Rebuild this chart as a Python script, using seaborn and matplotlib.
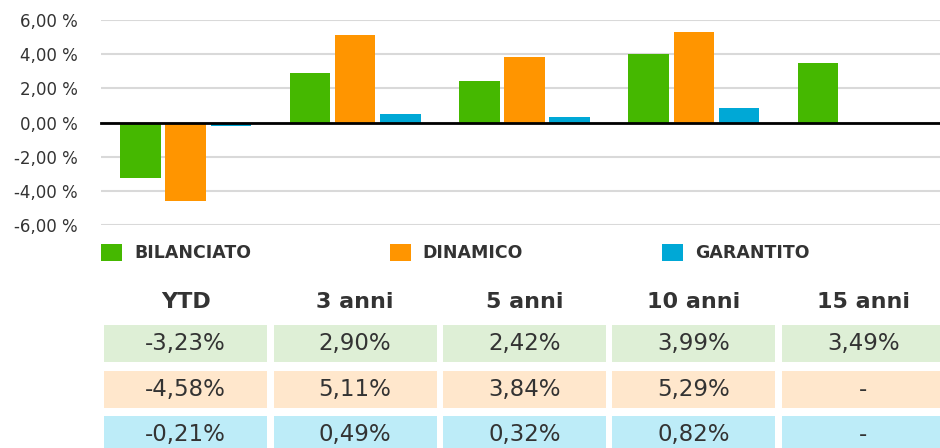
import numpy as np
import pandas as pd
import seaborn as sns
import matplotlib
matplotlib.use("Agg")
import matplotlib.pyplot as plt
from matplotlib.patches import Rectangle
from matplotlib.ticker import FuncFormatter, FixedLocator

periods = ["YTD", "3 anni", "5 anni", "10 anni", "15 anni"]
series = ["BILANCIATO", "DINAMICO", "GARANTITO"]
bilanciato = [-3.23, 2.90, 2.42, 3.99, 3.49]
dinamico = [-4.58, 5.11, 3.84, 5.29, None]
garantito = [-0.21, 0.49, 0.32, 0.82, None]
yticks = [-6, -4, -2, 0, 2, 4, 6]

bar_colors = ["#45B800", "#FF9500", "#00A8D6"]
cell_colors = ["#DEEFD6", "#FFE7CC", "#BDECF8"]
text_color = "#333333"

df = pd.DataFrame({
    "period": periods * 3,
    "fund": np.repeat(series, len(periods)),
    "value": [np.nan if v is None else v for v in bilanciato + dinamico + garantito],
})

sns.set_theme(style="white")
plt.rcParams["font.family"] = ["DejaVu Sans"]

W, H = 940, 448
fig = plt.figure(figsize=(W / 100, H / 100), dpi=100)
ax = fig.add_axes([101 / W, 1 - 225 / H, 847 / W, 205 / H])

sns.barplot(data=df, x="period", y="value", hue="fund", order=periods,
            hue_order=series, palette=bar_colors, saturation=1,
            width=0.8, gap=0.1, errorbar=None, linewidth=0, ax=ax)

ax.set_xlim(-0.5, len(periods) - 0.5)
ax.set_ylim(-6, 6)
ax.set_yticks(yticks)
ax.yaxis.set_major_formatter(FuncFormatter(lambda v, p: f"{v:.2f}".replace(".", ",") + " %"))
ax.yaxis.grid(True, color="#d9d9d9", lw=1.5)
ax.set_axisbelow(True)
ax.set_xlabel("")
ax.set_ylabel("")
for s in ["left", "top", "right"]:
    ax.spines[s].set_visible(False)
ax.spines["bottom"].set_position(("data", 0))
ax.spines["bottom"].set_color("black")
ax.spines["bottom"].set_linewidth(2)
ax.xaxis.set_major_locator(FixedLocator([i - 0.5 for i in range(len(periods) + 1)]))
ax.tick_params(axis="x", direction="in", length=4, width=1.5, color="black", labelbottom=False)
ax.tick_params(axis="y", length=0, pad=17, labelsize=12, labelcolor=text_color)

sns.move_legend(ax, "center left", bbox_to_anchor=(0, (225 - 253) / 205), ncol=3,
                frameon=False, title=None, handlelength=1.2, handleheight=1.2,
                handletextpad=0.7, columnspacing=8.0, borderaxespad=0, borderpad=0,
                prop=dict(weight="bold", size=12.5), labelcolor=text_color)

# table
ax2 = fig.add_axes([101 / W, 0, 847 / W, (H - 280) / H])
ax2.set_xlim(-0.5, len(periods) - 0.5)
ax2.set_ylim(H, 280)
ax2.axis("off")

row_tops = [325, 371, 416]
row_h = 37
cell_w = 0.962
for i, p in enumerate(periods):
    ax2.text(i, 302, p, ha="center", va="center", fontsize=16, fontweight="bold", color=text_color)
for r, vals in enumerate([bilanciato, dinamico, garantito]):
    for i, v in enumerate(vals):
        ax2.add_patch(Rectangle((i - cell_w / 2, row_tops[r]), cell_w, row_h,
                                facecolor=cell_colors[r], edgecolor="none", clip_on=False))
        label = "-" if v is None else f"{v:.2f}".replace(".", ",") + "%"
        ax2.text(i, row_tops[r] + row_h / 2, label, ha="center", va="center",
                 fontsize=16.5, color=text_color)

fig.savefig("out.png", dpi=100)
